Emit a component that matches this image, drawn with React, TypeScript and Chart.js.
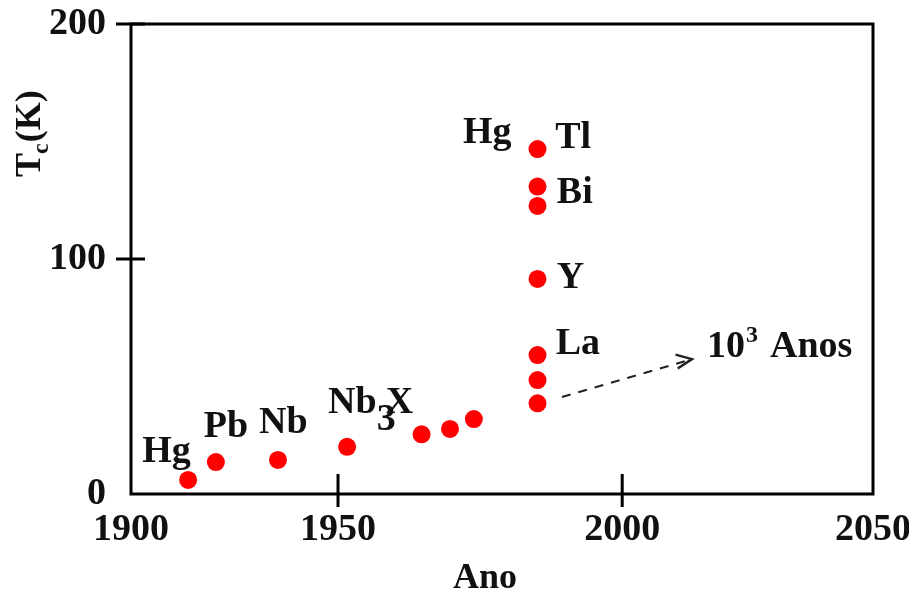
import React, { useEffect, useRef } from "react";
import { Chart, registerables, LinearScale } from "chart.js";

// ---------- data ----------
const YEARS = [1913.8, 1920.5, 1935.5, 1951.6, 1964.7, 1969.7, 1973.9, 1985.1, 1985.1, 1985.1, 1985.1, 1985.1, 1985.1, 1985.1];
const TC = [6.0, 13.6, 14.5, 20.1, 25.4, 27.7, 31.9, 38.6, 48.5, 59.1, 91.5, 122.6, 130.8, 146.8];

const X_TICKS = [1900, 1950, 2000, 2050];
const Y_TICKS = [0, 100, 200];
const X_TICK_MARKS = [1950, 2000];
const Y_TICK_MARKS = [100, 200];

// axis knots (the drawn axis is not evenly spaced)
const X_KNOT_VALUES = [1900, 1950, 2000, 2050];
const X_KNOT_FRACTIONS = [0, 0.279, 0.662, 1];

// element labels (data coordinates of the text's left/baseline)
const LABEL_TEXTS = ["Hg", "Pb", "Nb", "Hg", "Tl", "Bi", "Y", "La"];
const LABEL_X = [1902.7, 1917.6, 1930.9, 1972.0, 1988.2, 1988.5, 1988.5, 1988.3];
const LABEL_Y = [13.6, 24.3, 26.0, 149.4, 147.2, 123.8, 87.7, 59.6];

const NB3X_POS = [1947.6, 34.5];
const ANOS_POS = [2016.9, 58.3];
const ARROW_FROM = [1989.4, 41.3];
const ARROW_TO = [2013.9, 57.4];

const FONT = '"Liberation Serif", "Times New Roman", serif';
const INK = "#111";

function toDecimal(v: number): number {
  const kv = X_KNOT_VALUES, kf = X_KNOT_FRACTIONS;
  let i = 0;
  while (i < kv.length - 2 && v > kv[i + 1]) i++;
  const t = (v - kv[i]) / (kv[i + 1] - kv[i]);
  return kf[i] + t * (kf[i + 1] - kf[i]);
}
function fromDecimal(d: number): number {
  const kv = X_KNOT_VALUES, kf = X_KNOT_FRACTIONS;
  let i = 0;
  while (i < kf.length - 2 && d > kf[i + 1]) i++;
  const t = (d - kf[i]) / (kf[i + 1] - kf[i]);
  return kv[i] + t * (kv[i + 1] - kv[i]);
}

class PiecewiseScale extends LinearScale {
  static id = "piecewise";
  getPixelForValue(value: any) {
    if (value === null || value === undefined || isNaN(value)) return NaN;
    return this.getPixelForDecimal(toDecimal(+value));
  }
  getValueForPixel(pixel: number) {
    return fromDecimal(this.getDecimalForPixel(pixel));
  }
}

Chart.register(...registerables, PiecewiseScale as any);

const decorPlugin = {
  id: "decor",
  afterDraw(chart: any) {
    const { ctx, chartArea: a } = chart;
    const xs = chart.scales.x;
    const ys = chart.scales.y;
    ctx.save();
    // frame
    ctx.strokeStyle = "#000";
    ctx.lineWidth = 3;
    ctx.strokeRect(a.left, a.top, a.right - a.left, a.bottom - a.top);
    // tick marks crossing the axes
    ctx.beginPath();
    for (const v of X_TICK_MARKS) {
      const px = xs.getPixelForValue(v);
      ctx.moveTo(px, a.bottom - 20);
      ctx.lineTo(px, a.bottom + 13);
    }
    for (const v of Y_TICK_MARKS) {
      const py = ys.getPixelForValue(v);
      ctx.moveTo(a.left - 15, py);
      ctx.lineTo(a.left + 14, py);
    }
    ctx.stroke();

    // labels
    ctx.fillStyle = INK;
    ctx.textAlign = "left";
    ctx.textBaseline = "alphabetic";
    const big = `bold 38px ${FONT}`;
    const title = `bold 36px ${FONT}`;
    const small = `bold 24px ${FONT}`;
    ctx.font = big;
    LABEL_TEXTS.forEach((t, i) => {
      ctx.fillText(t, xs.getPixelForValue(LABEL_X[i]), ys.getPixelForValue(LABEL_Y[i]));
    });
    // Nb3X
    {
      const px = xs.getPixelForValue(NB3X_POS[0]);
      const py = ys.getPixelForValue(NB3X_POS[1]);
      ctx.font = big;
      ctx.fillText("Nb", px, py);
      const w = ctx.measureText("Nb").width;
      ctx.fillText("3", px + w, py + 17);
      ctx.fillText("X", px + w + 9, py);
    }
    // 10^3 Anos
    {
      const px = xs.getPixelForValue(ANOS_POS[0]);
      const py = ys.getPixelForValue(ANOS_POS[1]);
      ctx.font = big;
      ctx.fillText("10", px, py);
      const w = ctx.measureText("10").width;
      ctx.font = small;
      ctx.fillText("3", px + w + 1, py - 15);
      ctx.font = big;
      ctx.fillText("Anos", px + 63, py);
    }
    // dashed arrow
    {
      const x0 = xs.getPixelForValue(ARROW_FROM[0]);
      const y0 = ys.getPixelForValue(ARROW_FROM[1]);
      const x1 = xs.getPixelForValue(ARROW_TO[0]);
      const y1 = ys.getPixelForValue(ARROW_TO[1]);
      ctx.strokeStyle = "#222";
      ctx.lineWidth = 2;
      ctx.setLineDash([9, 8]);
      ctx.beginPath();
      ctx.moveTo(x0, y0);
      ctx.lineTo(x1, y1);
      ctx.stroke();
      ctx.setLineDash([]);
      const ang = Math.atan2(y1 - y0, x1 - x0);
      const L = 17;
      ctx.lineWidth = 2.5;
      ctx.beginPath();
      ctx.moveTo(x1 + L * Math.cos(ang + Math.PI - 0.3), y1 + L * Math.sin(ang + Math.PI - 0.3));
      ctx.lineTo(x1, y1);
      ctx.lineTo(x1 + L * Math.cos(ang + Math.PI + 0.55), y1 + L * Math.sin(ang + Math.PI + 0.55));
      ctx.stroke();
    }
    // axis titles
    ctx.font = title;
    ctx.textAlign = "center";
    ctx.fillText("Ano", 485, 588);
    ctx.textAlign = "left";
    ctx.translate(40, 177);
    ctx.rotate(-Math.PI / 2);
    ctx.font = title;
    ctx.fillText("T", 0, 0);
    const tw = ctx.measureText("T").width;
    ctx.font = small;
    ctx.fillText("c", tw - 1, 8);
    const cw = ctx.measureText("c").width;
    ctx.font = title;
    ctx.fillText("(K)", tw + cw, 0);
    ctx.restore();
  },
};

export default function App() {
  const ref = useRef<HTMLCanvasElement | null>(null);
  useEffect(() => {
    if (!ref.current) return;
    const tickFont = { family: FONT, size: 38, weight: "bold" as const };
    const chart = new Chart(ref.current, {
      type: "scatter",
      data: {
        datasets: [
          {
            data: YEARS.map((x, i) => ({ x, y: TC[i] })),
            backgroundColor: "#ff0000",
            borderColor: "#ff0000",
            pointRadius: 9,
            pointHoverRadius: 9,
            pointBorderWidth: 0,
          },
        ],
      },
      options: {
        responsive: false,
        maintainAspectRatio: false,
        animation: false,
        layout: { padding: { top: 24, right: 36, left: 0, bottom: 0 } },
        plugins: { legend: { display: false }, tooltip: { enabled: false } },
        scales: {
          x: {
            type: "piecewise" as any,
            min: 1900,
            max: 2050,
            afterBuildTicks: (s: any) => {
              s.ticks = X_TICKS.map((v) => ({ value: v }));
            },
            afterFit: (s: any) => {
              s.height = 107;
              s.paddingLeft = 0;
              s.paddingRight = 0;
            },
            grid: { display: false, drawTicks: false },
            border: { display: false },
            ticks: {
              autoSkip: false,
              maxRotation: 0,
              padding: 13,
              color: INK,
              font: tickFont,
              callback: (v: any) => String(v),
            },
          } as any,
          y: {
            type: "linear",
            min: 0,
            max: 200,
            afterBuildTicks: (s: any) => {
              s.ticks = Y_TICKS.map((v) => ({ value: v }));
            },
            afterFit: (s: any) => {
              s.width = 131;
              s.paddingTop = 0;
              s.paddingBottom = 0;
            },
            grid: { display: false, drawTicks: false },
            border: { display: false },
            ticks: {
              padding: 25,
              color: INK,
              font: tickFont,
              callback: (v: any) => String(v),
            },
          },
        },
      },
      plugins: [decorPlugin],
    });
    return () => chart.destroy();
  }, []);
  return (
    <div style={{ position: "fixed", left: 0, top: 0, width: 909, height: 601, background: "#fff" }}>
      <canvas ref={ref} width={909} height={601} style={{ display: "block" }} />
    </div>
  );
}
